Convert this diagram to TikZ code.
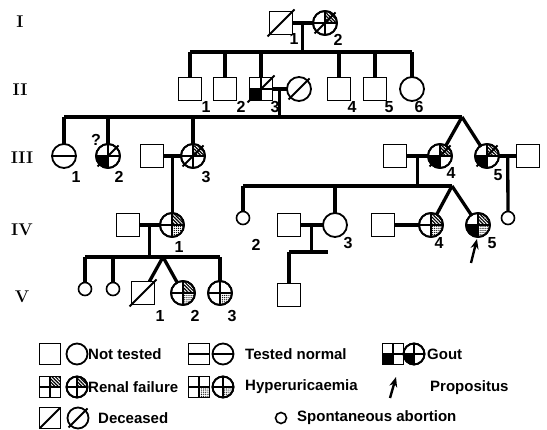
\documentclass[tikz,border=0pt]{standalone}
\usepackage{fontspec}
\newfontfamily\lab{Liberation Sans}
\usetikzlibrary{calc,patterns.meta,arrows.meta}
\tikzset{
  sq/.style={draw,line width=1.8pt,rectangle,minimum size=23pt,inner sep=0pt,outer sep=0pt,fill=white},
  ci/.style={draw,line width=1.8pt,circle,minimum size=24pt,inner sep=0pt,outer sep=0pt,fill=white},
  sc/.style={draw,line width=1.6pt,circle,minimum size=13pt,inner sep=0pt,outer sep=0pt,fill=white},
  lsq/.style={sq,minimum size=21pt},
  lci/.style={ci,minimum size=21pt},
  ped/.style={line width=3.3pt},
  num/.style={font=\lab\bfseries\fontsize{16}{16}\selectfont,inner sep=0pt},
  gen/.style={font=\fontsize{17}{17}\selectfont\bfseries,inner sep=0pt},
  leg/.style={font=\lab\bfseries\fontsize{15}{15}\selectfont,inner sep=0pt,anchor=west},
  renal/.style={pattern={Lines[angle=-45,distance=2.4pt,line width=1.2pt]}},
  hyper/.style={pattern={Dots[distance=2.1pt,radius=0.65pt]}},
  gout/.style={fill=black},
  thin/.style={line width=1.3pt},
  outl/.style={line width=1.8pt},
  parrow/.style={line width=2.4pt,-{Stealth[length=10pt,width=8pt]}},
}
% quadrant fill of a circle: node, radius, vertical anchor, horizontal anchor, style
\newcommand\myqc[5]{\begin{scope}\clip (#1.center) circle[radius=#2pt];
  \fill[#5] (#1.center) rectangle (#1.#3 -| #1.#4);\end{scope}}
% quadrant fill of a square
\newcommand\myqs[4]{\fill[#4] (#1.center) rectangle (#1.#2 -| #1.#3);}
\newcommand\mycross[1]{\draw[thin] (#1.north)--(#1.south) (#1.west)--(#1.east);}
\newcommand\myhline[1]{\draw[thin] (#1.west)--(#1.east);}
\newcommand\myoc[2]{\draw[outl] (#1.center) circle[radius=#2pt];}
\newcommand\myos[1]{\draw[outl] (#1.north west) rectangle (#1.south east);}
\newcommand\mydec[2]{\draw[outl] ($(#1.center)+(-#2,#2)$)--($(#1.center)+(#2,-#2)$);}
\begin{document}
\begin{tikzpicture}[x=1pt,y=-1pt]
\useasboundingbox (0,0) rectangle (547,430);
% generation labels
\node[gen] (gI) at (20,22) {I};
\node[gen] (gII) at (20,90) {II};
\node[gen] (gIII) at (22,158) {III};
\node[gen] (gIV) at (22,230) {IV};
\node[gen] (gV) at (22,297) {V};
% levels
\coordinate (s2) at (0,52);
\coordinate (s3) at (0,117);
\coordinate (s4) at (0,186);
\coordinate (s5) at (0,257);
\coordinate (s6) at (0,252);
% ---------- generation I
\node[sq] (I1) at (281,23) {};
\node[ci] (I2) at (325,23) {};
\mydec{I1}{13.5}
\myqc{I2}{12}{north}{east}{renal}
\mycross{I2}\myoc{I2}{12}\mydec{I2}{10.5}
\node[num] (lI1) at (294,39) {1};
\node[num] (lI2) at (338,40) {2};
\draw[ped] (I1) -- (I2);
\coordinate (m1) at ($(I1.east)!0.5!(I2.west)$);
% ---------- generation II
\node[sq] (II1) at (190,89) {};
\node[sq] (II2) at (225,89) {};
\node[sq] (II3) at (261,89) {};
\node[ci] (W) at (299,89) {};
\node[sq] (II4) at (339,89) {};
\node[sq] (II5) at (375,89) {};
\node[ci] (II6) at (412,89) {};
\myqs{II3}{south}{west}{gout}
\mycross{II3}\myos{II3}\mydec{II3}{13.5}
\mydec{W}{10.5}
\node[num] (lII1) at (206,107) {1};
\node[num] (lII2) at (241,107) {2};
\node[num] (lII3) at (275,107) {3};
\node[num] (lII4) at (352,107) {4};
\node[num] (lII5) at (389,107) {5};
\node[num] (lII6) at (419,107) {6};
\draw[ped] (m1) -- (m1 |- s2);
\draw[ped] (II1.north |- s2) -- (II6.north |- s2);
\foreach \n in {II1,II2,II3,II4,II5,II6} \draw[ped] (\n.north) -- (\n.north |- s2);
\draw[ped] (II3) -- (W);
\coordinate (m2) at ($(II3.east)!0.5!(W.west)$);
% ---------- generation III
\node[ci] (III1) at (64,156) {};
\node[ci] (III2) at (108,156) {};
\node[sq] (III3h) at (152,156) {};
\node[ci] (III3) at (193,156) {};
\node[sq] (III4h) at (395,156) {};
\node[ci] (III4) at (440,156) {};
\node[ci] (III5) at (487,156) {};
\node[sq] (III5h) at (528,156) {};
\coordinate (ap3) at (462,117);
\myhline{III1}
\myqc{III2}{12}{south}{west}{gout}
\mycross{III2}\myoc{III2}{12}\mydec{III2}{10.5}
\myqc{III3}{12}{north}{east}{renal}
\mycross{III3}\myoc{III3}{12}\mydec{III3}{10.5}
\myqc{III4}{12}{north}{east}{renal}
\myqc{III4}{12}{south}{west}{gout}
\mycross{III4}\myoc{III4}{12}\mydec{III4}{10.5}
\myqc{III5}{12}{north}{east}{renal}
\myqc{III5}{12}{south}{west}{gout}
\mycross{III5}\myoc{III5}{12}\mydec{III5}{10.5}
\node[num] (q) at (96,140) {?};
\node[num] (lIII1) at (76,177) {1};
\node[num] (lIII2) at (119,177) {2};
\node[num] (lIII3) at (206,177) {3};
\node[num] (lIII4) at (451,173) {4};
\node[num] (lIII5) at (498,175) {5};
\draw[ped] (m2) -- (m2 |- s3);
\draw[ped] (III1.north |- s3) -- (ap3);
\foreach \n in {III1,III2,III3} \draw[ped] (\n.north) -- (\n.north |- s3);
\draw[ped] (ap3) -- (III4);
\draw[ped] (ap3) -- (III5);
\draw[ped] (III3h) -- (III3);
\draw[ped] (III4h) -- (III4);
\draw[ped] (III5) -- (III5h);
\coordinate (m3) at ($(III3h.east)!0.5!(III3.west)$);
\coordinate (m4) at ($(III4h.east)!0.5!(III4.west)$);
\coordinate (m5) at ($(III5.east)!0.5!(III5h.west)$);
% ---------- generation IV
\node[sq] (IV1h) at (128,225) {};
\node[ci] (IV1) at (172,225) {};
\node[sc] (IV2) at (243,218) {};
\node[sq] (IV3h) at (289,225) {};
\node[ci] (IV3) at (335,225) {};
\node[sq] (IV4h) at (383,225) {};
\node[ci] (IV4) at (431,225) {};
\node[ci] (IV5) at (478,225) {};
\node[sc] (ab3) at (508,218) {};
\coordinate (ap4) at (452,186);
\myqc{IV1}{12}{north}{east}{renal}
\myqc{IV1}{12}{south}{east}{hyper}
\mycross{IV1}\myoc{IV1}{12}
\myqc{IV4}{12}{north}{east}{renal}
\myqc{IV4}{12}{south}{east}{hyper}
\mycross{IV4}\myoc{IV4}{12}
\myqc{IV5}{12}{north}{east}{renal}
\myqc{IV5}{12}{south}{east}{hyper}
\myqc{IV5}{12}{south}{west}{gout}
\mycross{IV5}\myoc{IV5}{12}
\node[num] (lIV1) at (179,247) {1};
\node[num] (lIV2) at (256,245) {2};
\node[num] (lIV3) at (348,243) {3};
\node[num] (lIV4) at (439,243) {4};
\node[num] (lIV5) at (492,243) {5};
\draw[ped] (m3) -- (m3 |- IV1.north);
\draw[ped] (m4) -- (m4 |- s4);
\draw[ped] (m5) -- (ab3);
\draw[ped] (IV2.north |- s4) -- (ap4);
\draw[ped] (IV2.north) -- (IV2.north |- s4);
\draw[ped] (IV3.north) -- (IV3.north |- s4);
\draw[ped] (ap4) -- (IV4);
\draw[ped] (ap4) -- (IV5);
\draw[ped] (IV1h) -- (IV1);
\draw[ped] (IV3h) -- (IV3);
\draw[ped] (IV4h) -- (IV4);
\coordinate (m6) at ($(IV1h.east)!0.5!(IV1.west)$);
\coordinate (m7) at ($(IV3h.east)!0.5!(IV3.west)$);
\coordinate (pt) at (471,263);
\coordinate (ptip) at (477,239);
\draw[parrow] (pt) -- (ptip);
% ---------- generation V
\node[sc] (ab1) at (85,289) {};
\node[sc] (ab2) at (113,289) {};
\node[sq] (V1) at (143,293) {};
\node[ci] (V2) at (183,293) {};
\node[ci] (V3) at (220,293) {};
\node[sq] (V4) at (289,295) {};
\coordinate (ap5) at (163,257);
\coordinate (e6) at (328,252);
\mydec{V1}{13.5}
\myqc{V2}{12}{north}{east}{renal}
\myqc{V2}{12}{south}{east}{hyper}
\mycross{V2}\myoc{V2}{12}
\myqc{V3}{12}{south}{east}{hyper}
\mycross{V3}\myoc{V3}{12}
\node[num] (lV1) at (160,316) {1};
\node[num] (lV2) at (195,316) {2};
\node[num] (lV3) at (232,316) {3};
\draw[ped] (m6) -- (m6 |- s5);
\draw[ped] (ab1.north |- s5) -- (V3.north |- s5);
\foreach \n in {ab1,ab2,V3} \draw[ped] (\n.north) -- (\n.north |- s5);
\draw[ped] (ap5) -- (V1);
\draw[ped] (ap5) -- (V2);
\draw[ped] (m7) -- (m7 |- s6);
\draw[ped] (V4.north |- s6) -- (e6);
\draw[ped] (V4.north) -- (V4.north |- s6);
% ---------- legend
\node[lsq] (Lnt) at (50,354) {};
\node[lci] (Lntc) at (77,354) {};
\node[leg] (tnt) at (88,354) {Not tested};
\node[lsq] (Ltn) at (199,354) {};
\node[lci] (Ltnc) at (223,354) {};
\myhline{Ltn}\myhline{Ltnc}
\node[leg] (ttn) at (245,354) {Tested normal};
\node[lsq] (Lg) at (393,354) {};
\node[lci] (Lgc) at (414,354) {};
\myqs{Lg}{south}{west}{gout}\mycross{Lg}\myos{Lg}
\myqc{Lgc}{10.5}{south}{west}{gout}\mycross{Lgc}\myoc{Lgc}{10.5}
\node[leg] (tg) at (427,354) {Gout};
\node[lsq] (Lr) at (50,387) {};
\node[lci] (Lrc) at (77,387) {};
\myqs{Lr}{north}{east}{renal}\mycross{Lr}\myos{Lr}
\myqc{Lrc}{10.5}{north}{east}{renal}\mycross{Lrc}\myoc{Lrc}{10.5}
\node[leg] (tr) at (88,387) {Renal failure};
\node[lsq] (Lh) at (199,387) {};
\node[lci] (Lhc) at (223,387) {};
\myqs{Lh}{south}{east}{hyper}\mycross{Lh}\myos{Lh}
\myqc{Lhc}{10.5}{south}{east}{hyper}\mycross{Lhc}\myoc{Lhc}{10.5}
\node[leg] (th) at (245,387) {Hyperuricaemia};
\coordinate (La1) at (390,398);
\coordinate (La2) at (396,377);
\draw[parrow] (La1) -- (La2);
\node[leg] (tp) at (430,388) {Propositus};
\node[lsq] (Ld) at (50,418) {};
\node[lci] (Ldc) at (78,418) {};
\mydec{Ld}{10}\mydec{Ldc}{9.5}
\node[leg] (td) at (98,418) {Deceased};
\node[sc,minimum size=11pt] (Lab) at (281,418) {};
\node[leg] (tab) at (297,418) {Spontaneous abortion};
\end{tikzpicture}
\end{document}
